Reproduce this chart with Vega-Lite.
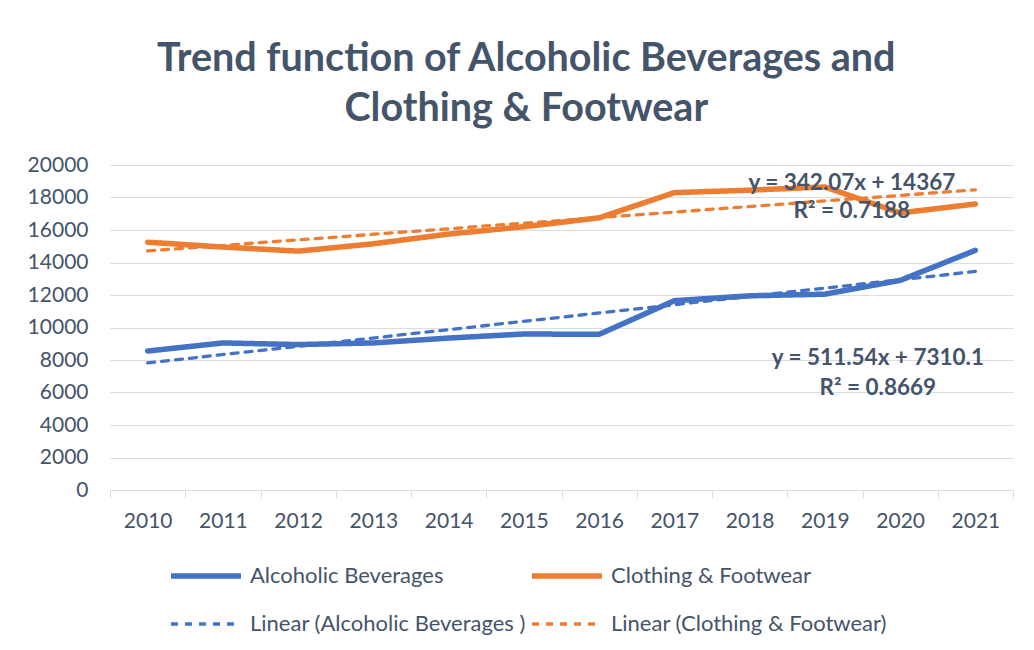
{
  "$schema": "https://vega.github.io/schema/vega-lite/v6.json",
  "width": 903,
  "height": 325,
  "autosize": {"type": "none"},
  "padding": {"left": 110, "top": 165, "right": 21, "bottom": 160},
  "background": "white",
  "title": {
    "text": ["Trend function of Alcoholic Beverages and", "Clothing & Footwear"],
    "font": "Lato",
    "fontSize": 39.5,
    "fontWeight": "bold",
    "color": "#44546A",
    "anchor": "middle",
    "frame": "bounds",
    "lineHeight": 50,
    "offset": 25,
    "dx": 6
  },
  "config": {
    "view": {"stroke": null},
    "font": "Lato",
    "axis": {
      "labelFont": "Lato",
      "labelFontSize": 21,
      "labelColor": "#44546A",
      "gridColor": "#DADDE3",
      "domainColor": "#DADDE3",
      "tickColor": "#DADDE3",
      "title": null
    },
    "legend": {
      "labelFont": "Lato",
      "labelFontSize": 22,
      "labelColor": "#44546A",
      "labelLimit": 500
    }
  },
  "datasets": {
    "series": [
      {"year": "2010", "series": "Alcoholic Beverages", "value": 8550},
      {"year": "2011", "series": "Alcoholic Beverages", "value": 9050},
      {"year": "2012", "series": "Alcoholic Beverages", "value": 8950},
      {"year": "2013", "series": "Alcoholic Beverages", "value": 9050},
      {"year": "2014", "series": "Alcoholic Beverages", "value": 9350},
      {"year": "2015", "series": "Alcoholic Beverages", "value": 9600},
      {"year": "2016", "series": "Alcoholic Beverages", "value": 9580},
      {"year": "2017", "series": "Alcoholic Beverages", "value": 11650},
      {"year": "2018", "series": "Alcoholic Beverages", "value": 11950},
      {"year": "2019", "series": "Alcoholic Beverages", "value": 12050},
      {"year": "2020", "series": "Alcoholic Beverages", "value": 12900},
      {"year": "2021", "series": "Alcoholic Beverages", "value": 14750},
      {"year": "2010", "series": "Clothing & Footwear", "value": 15250},
      {"year": "2011", "series": "Clothing & Footwear", "value": 14950},
      {"year": "2012", "series": "Clothing & Footwear", "value": 14700},
      {"year": "2013", "series": "Clothing & Footwear", "value": 15150},
      {"year": "2014", "series": "Clothing & Footwear", "value": 15750},
      {"year": "2015", "series": "Clothing & Footwear", "value": 16200},
      {"year": "2016", "series": "Clothing & Footwear", "value": 16750},
      {"year": "2017", "series": "Clothing & Footwear", "value": 18300},
      {"year": "2018", "series": "Clothing & Footwear", "value": 18450},
      {"year": "2019", "series": "Clothing & Footwear", "value": 18650},
      {"year": "2020", "series": "Clothing & Footwear", "value": 17050},
      {"year": "2021", "series": "Clothing & Footwear", "value": 17600},
      {"year": "2010", "series": "Linear (Alcoholic Beverages )", "value": 7821.6},
      {"year": "2021", "series": "Linear (Alcoholic Beverages )", "value": 13448.6},
      {"year": "2010", "series": "Linear (Clothing & Footwear)", "value": 14709},
      {"year": "2021", "series": "Linear (Clothing & Footwear)", "value": 18472}
    ],
    "label1": [
      {"year": "2019", "value": 19550, "label": "y = 342.07x + 14367\nR² = 0.7188"}
    ],
    "label2": [
      {"year": "2019", "value": 8800, "label": "y = 511.54x + 7310.1\nR² = 0.8669"}
    ]
  },
  "encoding": {
    "x": {
      "field": "year",
      "type": "ordinal",
      "bandPosition": 0.5,
      "scale": {"type": "band", "paddingInner": 0, "paddingOuter": 0},
      "axis": {"labelAngle": 0, "tickBand": "extent", "tickSize": 8, "labelPadding": 12, "grid": false}
    },
    "y": {
      "field": "value",
      "type": "quantitative",
      "scale": {"domain": [0, 20000]},
      "axis": {"values": [0, 2000, 4000, 6000, 8000, 10000, 12000, 14000, 16000, 18000, 20000], "format": "d", "domain": false, "ticks": false, "labelPadding": 22, "labelOverlap": false}
    }
  },
  "layer": [
    {
      "data": {"name": "series"},
      "mark": {"type": "line", "strokeCap": "round", "strokeJoin": "round"},
      "encoding": {
        "color": {
          "field": "series",
          "type": "nominal",
          "scale": {
            "domain": ["Alcoholic Beverages", "Clothing & Footwear", "Linear (Alcoholic Beverages )", "Linear (Clothing & Footwear)"],
            "range": ["#4472C4", "#ED7D31", "#4472C4", "#ED7D31"]
          },
          "legend": {
            "title": null,
            "orient": "none",
            "legendX": 58,
            "legendY": 373,
            "direction": "horizontal",
            "columns": 2,
            "symbolType": "stroke",
            "symbolSize": 4900,
            "rowPadding": -5,
            "columnPadding": -5,
            "labelOffset": 6
          }
        },
        "strokeDash": {
          "field": "series",
          "type": "nominal",
          "scale": {
            "domain": ["Alcoholic Beverages", "Clothing & Footwear", "Linear (Alcoholic Beverages )", "Linear (Clothing & Footwear)"],
            "range": [[1, 0], [1, 0], [7, 7], [7, 7]]
          },
          "legend": {
            "title": null,
            "orient": "none",
            "legendX": 58,
            "legendY": 373,
            "direction": "horizontal",
            "columns": 2,
            "symbolType": "stroke",
            "symbolSize": 4900,
            "rowPadding": -5,
            "columnPadding": -5,
            "labelOffset": 6
          }
        },
        "strokeWidth": {
          "field": "series",
          "type": "nominal",
          "scale": {
            "type": "ordinal",
            "domain": ["Alcoholic Beverages", "Clothing & Footwear", "Linear (Alcoholic Beverages )", "Linear (Clothing & Footwear)"],
            "range": [5.5, 5.5, 3.3, 3.3]
          },
          "legend": {
            "title": null,
            "orient": "none",
            "legendX": 58,
            "legendY": 373,
            "direction": "horizontal",
            "columns": 2,
            "symbolType": "stroke",
            "symbolSize": 4900,
            "rowPadding": -5,
            "columnPadding": -5,
            "labelOffset": 6
          }
        }
      }
    },
    {
      "data": {"name": "label1"},
      "mark": {"type": "text", "font": "Lato", "fontSize": 22.5, "fontWeight": "bold", "color": "#44546A", "lineBreak": "\n", "lineHeight": 28, "baseline": "top", "align": "center", "dx": 27},
      "encoding": {
        "text": {"field": "label"}
      }
    },
    {
      "data": {"name": "label2"},
      "mark": {"type": "text", "font": "Lato", "fontSize": 22.5, "fontWeight": "bold", "color": "#44546A", "lineBreak": "\n", "lineHeight": 30, "baseline": "top", "align": "center", "dx": 53},
      "encoding": {
        "text": {"field": "label"}
      }
    }
  ]
}
